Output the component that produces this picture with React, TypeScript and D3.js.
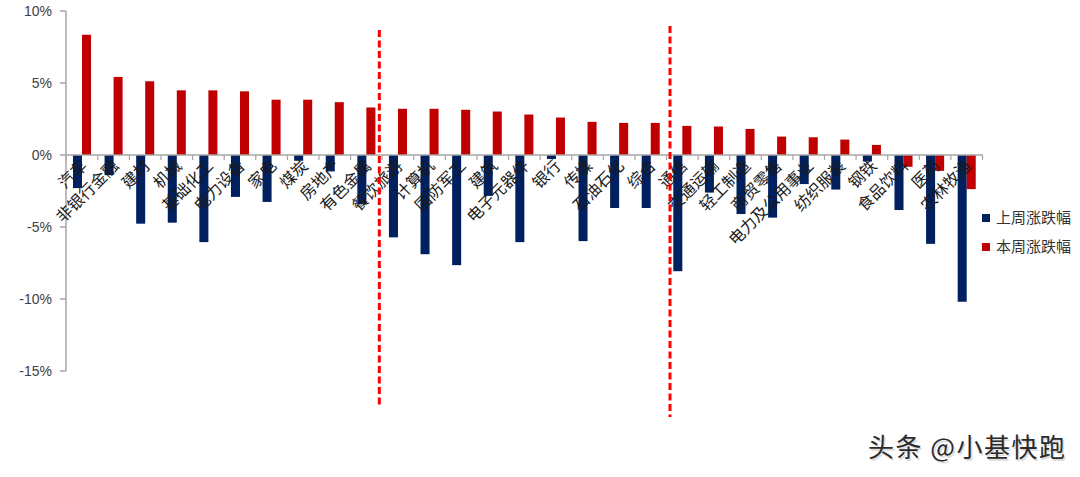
import React from "react";
import * as d3 from "d3";

const categories = ["汽车","非银行金融","建材","机械","基础化工","电力设备","家电","煤炭","房地产","有色金属","餐饮旅游","计算机","国防军工","建筑","电子元器件","银行","传媒","石油石化","综合","通信","交通运输","轻工制造","商贸零售","电力及公用事业","纺织服装","钢铁","食品饮料","医药","农林牧渔"];
const lastWeek = [-2.3,-1.4,-4.77,-4.7,-6.05,-2.91,-3.26,-0.4,-1.14,-3.4,-5.72,-6.89,-7.65,-2.84,-6.05,-0.28,-5.98,-3.68,-3.68,-8.07,-2.61,-4.1,-4.35,-2.02,-2.4,-0.45,-3.82,-6.17,-10.19];
const thisWeek = [8.35,5.42,5.12,4.49,4.49,4.42,3.84,3.84,3.67,3.3,3.21,3.21,3.14,3.02,2.81,2.6,2.3,2.23,2.23,2.02,1.98,1.81,1.28,1.23,1.07,0.7,-0.82,-1.1,-2.37];
const seriesNames = ["上周涨跌幅","本周涨跌幅"];
const seriesColors = ["#002060","#C00000"];
const yTicks = [10,5,0,-5,-10,-15];
const dividerAfter = ["有色金属","综合"];

export default function App() {
  const W = 1080, H = 477;
  const x = d3.scaleBand<string>().domain(categories).range([66.2, 982.5]).padding(0);
  const bw = x.bandwidth();
  const x1 = d3.scaleBand<string>().domain(seriesNames).range([0, bw]).paddingInner(0).paddingOuter(0.75);
  const y = d3.scaleLinear().domain([-15, 10]).range([371, 11]);
  const values = [lastWeek, thisWeek];
  const y0 = y(0);
  const font = "'Noto Sans CJK SC', sans-serif";

  const dividers = [
    { x: (x(dividerAfter[0]) as number) + bw - 0.09 * bw, y1: 30, y2: 405 },
    { x: (x(dividerAfter[1]) as number) + bw + 0.11 * bw, y1: 26, y2: 417 },
  ];

  return (
    <svg width={W} height={H} style={{ position: "absolute", left: 0, top: 0, background: "#fff" }}>
      <rect width={W} height={H} fill="#fff" />
      {values.map((vals, si) =>
        vals.map((v, i) => {
          const cx = (x(categories[i]) as number) + (x1(seriesNames[si]) as number);
          return (
            <rect key={`${si}-${i}`} x={cx} width={x1.bandwidth()}
              y={Math.min(y(v), y0)} height={Math.abs(y(v) - y0)} fill={seriesColors[si]} />
          );
        })
      )}
      <line x1={66} x2={66} y1={y(10)} y2={y(-15)} stroke="#a6a6a6" strokeWidth={1.5} />
      {yTicks.map((t) => (
        <g key={t}>
          <line x1={60} x2={66} y1={y(t)} y2={y(t)} stroke="#a6a6a6" strokeWidth={1.5} />
          <text x={52} y={y(t)} dy="0.35em" textAnchor="end" fontSize={14}
            fontFamily="'Liberation Sans', Arial, sans-serif" fill="#404040">{t}%</text>
        </g>
      ))}
      <line x1={66} x2={982.5} y1={y0} y2={y0} stroke="#a6a6a6" strokeWidth={1.5} />
      {categories.map((c) => (
        <line key={c} x1={(x(c) as number) + bw} x2={(x(c) as number) + bw} y1={y0} y2={y0 + 5}
          stroke="#a6a6a6" strokeWidth={1.2} />
      ))}
      <line x1={66.2} x2={66.2} y1={y0} y2={y0 + 5} stroke="#a6a6a6" strokeWidth={1.2} />
      {categories.map((c) => {
        const cx = (x(c) as number) + bw / 2;
        return (
          <text key={c} transform={`translate(${cx + 2},${y0 + 8}) rotate(-45)`} textAnchor="end"
            dy="0.35em" fontSize={16} fontFamily={font} fill="#1a1a1a">{c}</text>
        );
      })}
      {dividers.map((d, i) => (
        <line key={i} x1={d.x} x2={d.x} y1={d.y1} y2={d.y2} stroke="#FF0000" strokeWidth={3}
          strokeDasharray="7,3.5" />
      ))}
      {seriesNames.map((s, i) => (
        <g key={s} transform={`translate(982,${218 + i * 29})`}>
          <rect x={0} y={-4} width={8} height={8} fill={seriesColors[i]} />
          <text x={14} dy="0.35em" fontSize={15} fontFamily={font} fill="#333">{s}</text>
        </g>
      ))}
      <text x={868} y={457} fontSize={26} letterSpacing={1.5} fontFamily={font} fill="#ddd" transform="translate(1.5,1.5)">头条 @小基快跑</text>
      <text x={868} y={457} fontSize={26} letterSpacing={1.5} fontFamily={font} fill="#2a2a2a">头条 @小基快跑</text>
    </svg>
  );
}
